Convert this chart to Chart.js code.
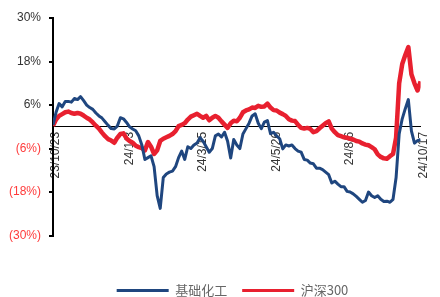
<!DOCTYPE html>
<html>
<head>
<meta charset="utf-8">
<script src="https://cdn.jsdelivr.net/npm/chart.js@4"></script>
<style>
  html, body { margin: 0; padding: 0; background: #fff; }
  #wrap { width: 440px; height: 297px; }
</style>
</head>
<body>
<div id="wrap"><canvas id="myChart" width="440" height="297"></canvas></div>
<script>
'use strict';

// Days since 2023-10-23 (x positions of the samples)
const days = [
    0, 3, 6, 9, 12, 15, 18, 21, 24, 27, 30, 33, 36, 39, 42, 45, 48, 51, 54, 57,
    60, 63, 66, 69, 72, 75, 78, 81, 84, 87, 90, 93, 96, 99, 102, 105, 108, 111, 114, 117,
    120, 123, 126, 129, 132, 135, 138, 141, 144, 147, 150, 153, 156, 159, 162, 165, 168, 171, 174, 177,
    180, 183, 186, 189, 192, 195, 198, 201, 204, 207, 210, 213, 216, 219, 222, 225, 228, 231, 234, 237,
    240, 243, 246, 249, 252, 255, 258, 261, 264, 267, 270, 273, 276, 279, 282, 285, 288, 291, 294, 297,
    300, 303, 306, 309, 312, 315, 318, 321, 324, 327, 330, 333, 336, 339, 342, 345, 348, 351, 354, 357, 360
];

// 基础化工 cumulative change, %
const chemicals = [
    0.5, 4, 6.4, 5.5, 7, 7, 6.8, 7.8, 7.5, 8.3, 7.2, 6, 5.3, 4.8, 3.8, 3, 2.4, 1.4, 0.4, -0.5,
    -0.6, 0.2, 2.5, 2.2, 1.2, 0, -0.6, -1.1, -2.5, -5, -9, -8.5, -8, -11, -19, -22.5, -14, -13, -12.5, -12.2,
    -11, -8.5, -6.7, -9, -5.5, -6, -5, -4.5, -3, -4, -5.5, -7, -6, -2.5, -2, -2.8, -1.5, -4, -8.6, -3.5,
    -5, -6, -2, -0.5, 1, 3, 3.6, 1, -0.5, 1.3, 1.7, -1.9, -1.5, -2.5, -3.3, -6.1, -5, -5.3, -5, -6,
    -6.7, -7, -9, -9.2, -10, -10.2, -11.4, -11.4, -11.8, -12.5, -13.2, -15.5, -15, -15.8, -16.5, -16.5, -17.8, -18, -18.5, -19.2,
    -20, -20.8, -20.3, -18, -19, -19.5, -19, -20, -20.6, -20.5, -20.8, -20, -14, -2, 2.2, 5, 7.5, -1.1, -4.5, -3.8, -3.5
];

// 沪深300 cumulative change, %
const csi300 = [
    0.3, 2, 3, 3.5, 4, 4.2, 3.8, 3.6, 3.8, 3.6, 3.1, 2.5, 2, 1.2, 0.3, -0.5, -1.6, -2.6, -3.4, -3.8,
    -4.4, -3, -2, -1.8, -3.2, -3.9, -4.4, -5.2, -5.6, -5.9, -6.5, -4.2, -5.5, -7.5, -6.5, -3.9, -3.3, -2.9, -2.5, -2,
    -1.2, 0.2, 0.5, 1, 2, 2.8, 3.2, 3.6, 3, 2.5, 3, 1.8, 2.5, 3, 2.5, 1.5, 0.6, -0.3, 1, 1.7,
    1.5, 2.5, 4, 4.5, 4.8, 5.3, 5.2, 5.8, 5.5, 5.6, 6.4, 5.3, 4.6, 4.5, 3.9, 3.5, 3, 2.1, 1.7, 1.6,
    0.5, -0.3, -0.5, -0.3, -0.6, -1.5, -1.2, -0.4, 0.3, 1, 1.5, -0.5, -1.5, -2.3, -2.6, -2.9, -3, -3.3, -3.5, -3.9,
    -4.1, -4.6, -4.9, -5.1, -5.6, -6.2, -7.6, -8.3, -8.7, -8.8, -8.1, -7.5, -3, 12, 17.3, 19.8, 22, 14.5, 12, 10, 12.5
];

const seriesNames = ['基础化工', '沪深300'];
const xTickDays = [0, 72, 144, 216, 288, 360];
const xTickLabels = ['23/10/23', '24/1/3', '24/3/15', '24/5/26', '24/8/6', '24/10/17'];
const yTicks = [-30, -18, -6, 6, 18, 30];

const BLUE = '#1F467F';
const RED = '#E8202F';

function toPoints(values) {
    return values.map((v, i) => ({x: days[i], y: v}));
}

// nudge the legend a bit to the right, like the original
const legendShift = {
    id: 'legendShift',
    afterLayout(chart) {
        chart.legend.left += 14;
        chart.legend.right += 14;
    }
};

function renderChart() {
    const ctx = document.getElementById('myChart').getContext('2d');
    new Chart(ctx, {
        type: 'line',
        data: {
            datasets: [
                {label: seriesNames[0], data: toPoints(chemicals), borderColor: BLUE, backgroundColor: BLUE, borderWidth: 3},
                {label: seriesNames[1], data: toPoints(csi300), borderColor: RED, backgroundColor: RED, borderWidth: 4.5}
            ]
        },
        plugins: [legendShift],
        options: {
            responsive: false,
            animation: false,
            elements: {point: {radius: 0}, line: {tension: 0, borderJoinStyle: 'round'}},
            layout: {padding: {left: 0, right: 3, top: 18, bottom: -10}},
            plugins: {
                tooltip: {enabled: false},
                legend: {
                    position: 'bottom',
                    title: {display: true, text: '', padding: {top: 19, bottom: 0}},
                    labels: {
                        boxWidth: 52,
                        boxHeight: 3,
                        padding: 15,
                        color: '#333',
                        font: {family: '"Noto Sans CJK SC", sans-serif', size: 13},
                        generateLabels: chart => chart.data.datasets.map((ds, i) => ({
                            text: ds.label,
                            fillStyle: ds.borderColor,
                            strokeStyle: ds.borderColor,
                            lineWidth: 0,
                            datasetIndex: i
                        }))
                    }
                }
            },
            scales: {
                x: {
                    type: 'linear',
                    min: 0,
                    max: 360,
                    position: {y: 0},
                    afterBuildTicks: s => { s.ticks = xTickDays.map(v => ({value: v})); },
                    grid: {display: false, drawTicks: false},
                    border: {display: true, color: '#000', width: 1},
                    ticks: {
                        autoSkip: false,
                        minRotation: 90,
                        maxRotation: 90,
                        padding: 5,
                        labelOffset: 3,
                        color: '#333',
                        font: {family: '"Liberation Sans", Arial, sans-serif', size: 12},
                        callback: v => xTickLabels[xTickDays.indexOf(v)]
                    }
                },
                y: {
                    min: -30,
                    max: 30,
                    afterBuildTicks: s => { s.ticks = yTicks.map(v => ({value: v})); },
                    afterFit: s => { s.width = 53; },
                    grid: {display: true, drawOnChartArea: false, drawTicks: true, tickLength: 4, color: '#000', lineWidth: 2},
                    border: {display: true, color: '#000', width: 2},
                    ticks: {
                        padding: 8,
                        color: c => c.tick && c.tick.value < 0 ? '#FF3B3B' : '#333',
                        font: {family: '"Liberation Sans", Arial, sans-serif', size: 12},
                        callback: v => v < 0 ? `(${-v}%)` : `${v}%`
                    }
                }
            }
        }
    });
}

renderChart();
</script>
</body>
</html>
